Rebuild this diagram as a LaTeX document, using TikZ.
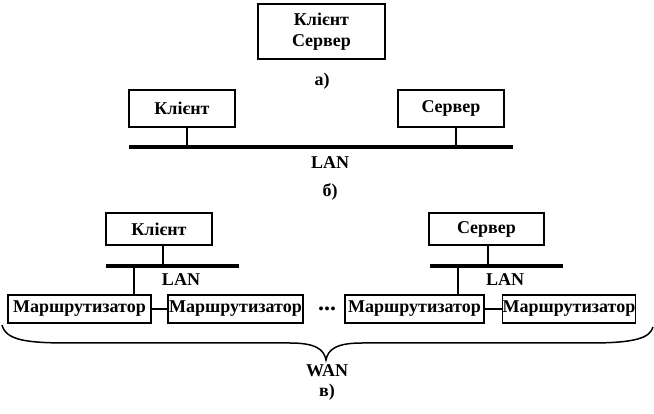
\documentclass[tikz,border=0pt]{standalone}
\usepackage{fontspec}
\setmainfont{Liberation Serif}
\usetikzlibrary{positioning}
\tikzset{
  box/.style={draw,line width=1.4pt,inner sep=0pt,font=\fontsize{18}{21}\selectfont\bfseries},
  lbl/.style={inner sep=0pt,font=\fontsize{18}{21}\selectfont\bfseries},
  lan/.style={line width=4pt},
  stub/.style={line width=2pt},
  link/.style={line width=1.4pt}
}

\begin{document}
\begin{tikzpicture}[x=1pt,y=-1pt]
    \useasboundingbox (0,0) rectangle (654,414);

    % a)
    \node [box,minimum width=127pt,minimum height=55pt,align=center] (ka) at (321.5,31.5) {Клієнт\\Сервер};
    \node [lbl] (la) at (322,81) {а)};

    % b)
    \node [box,minimum width=106pt,minimum height=37pt] (kb) at (182,108.5) {Клієнт};
    \node [box,minimum width=106pt,minimum height=37pt] (sb) at (451,108.5) {Сервер};
    \coordinate (lbw) at (129,147);
    \coordinate (lbe) at (513,147);
    \draw [lan] (lbw) -- (lbe);
    \draw [stub] (187,0 |- kb.south) -- (187,147);
    \draw [stub] (456,0 |- sb.south) -- (456,147);
    \node [lbl] (lanb) at (330,163) {LAN};
    \node [lbl] (lb) at (330,192) {б)};

    % c)
    \node [box,minimum width=106pt,minimum height=32pt] (kc) at (159,229) {Клієнт};
    \node [box,minimum width=115pt,minimum height=32pt] (sc) at (486.5,229) {Сервер};
    \node [box,minimum width=143pt,minimum height=28pt] (r1) at (79.5,309) {Маршрутизатор};
    \node [box,minimum width=135pt,minimum height=28pt] (r2) at (235.5,309) {Маршрутизатор};
    \node [box,minimum width=139pt,minimum height=28pt] (r3) at (414.5,309) {Маршрутизатор};
    \node [box,minimum width=132pt,minimum height=28pt] (r4) at (569,309) {Маршрутизатор};

    \coordinate (l1w) at (106,266);
    \coordinate (l1e) at (239,266);
    \coordinate (l2w) at (430,266);
    \coordinate (l2e) at (563,266);
    \draw [lan] (l1w) -- (l1e);
    \draw [lan] (l2w) -- (l2e);

    \coordinate (s1) at (163,266);
    \coordinate (t1) at (134,266);
    \coordinate (s2) at (488,266);
    \coordinate (t2) at (458,266);
    \draw [stub] (s1 |- kc.south) -- (s1);
    \draw [stub] (t1) -- (t1 |- r1.north);
    \draw [stub] (s2 |- sc.south) -- (s2);
    \draw [stub] (t2) -- (t2 |- r3.north);

    \draw [link] (r1) -- (r2);
    \draw [link] (r3) -- (r4);

    \node [lbl] (lan1) at (181,280) {LAN};
    \node [lbl] (lan2) at (505,280) {LAN};
    \node [lbl,font=\fontsize{24}{24}\selectfont\bfseries] (dots) at (327,309) {...};

    % brace
    \draw [line width=1.5pt] (2,325) .. controls (6,340) and (25,343) .. (70,343)
        -- (290,343) .. controls (315,343) and (324,349) .. (326,360)
        .. controls (328,349) and (337,343) .. (362,343)
        -- (590,343) .. controls (635,343) and (650,338) .. (653,327);

    \node [lbl] (wan) at (327,371) {WAN};
    \node [lbl] (lc) at (327,392) {в)};
\end{tikzpicture}
\end{document}
